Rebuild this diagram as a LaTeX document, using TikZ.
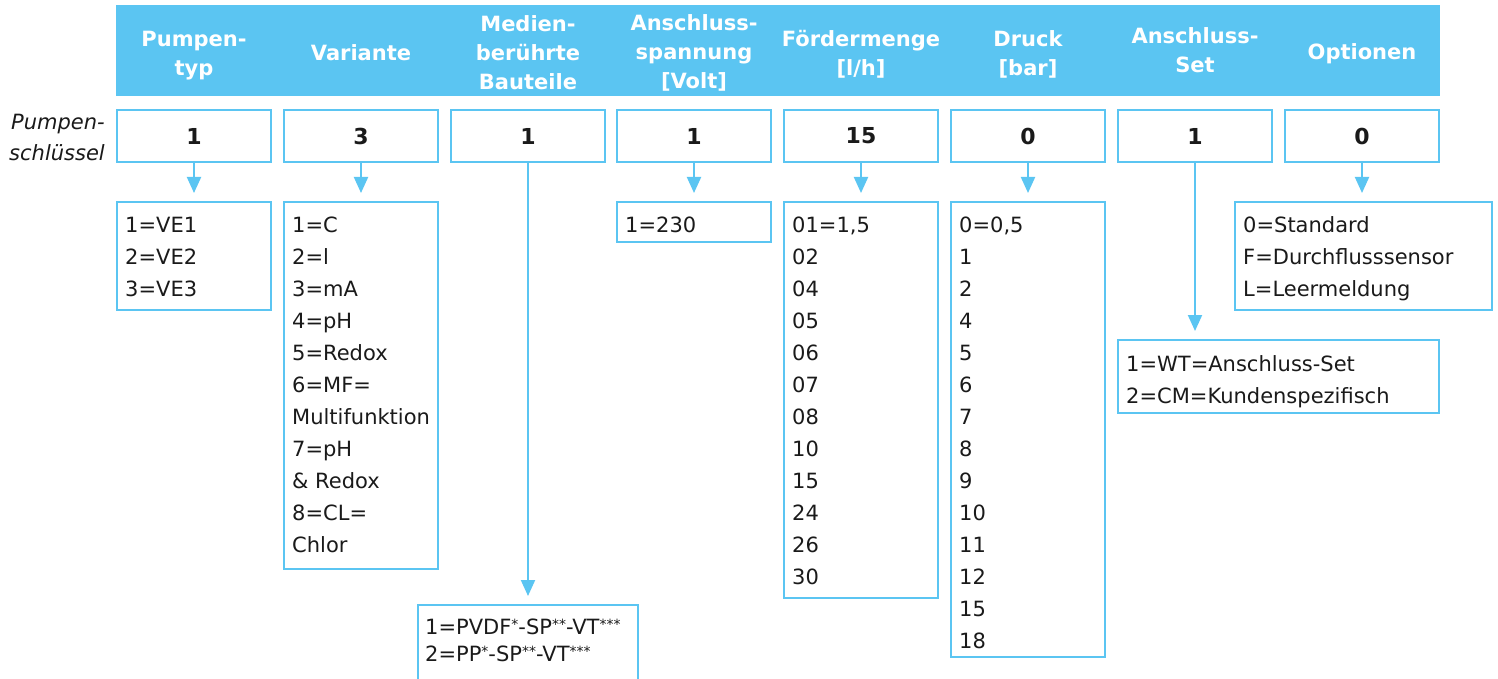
\documentclass[tikz,border=0pt]{standalone}
\usepackage{fontspec}
\setmainfont{DejaVu Sans}
\usetikzlibrary{arrows.meta}
\definecolor{lb}{RGB}{91,197,242}
\definecolor{txt}{RGB}{26,26,26}
\newcommand\sst[1]{\raisebox{5pt}{\fontsize{14}{14}\selectfont#1}}
\tikzset{
 hdrtext/.style={text=white, font=\fontsize{21}{29}\selectfont\bfseries, align=center, inner sep=0pt},
 keybox/.style={draw=lb, line width=1.6pt, minimum width=154pt, minimum height=52pt, inner sep=0pt, outer sep=0pt, font=\fontsize{22}{26}\selectfont\bfseries, text=txt},
 valbox/.style={draw=lb, line width=1.6pt, inner sep=0pt, outer sep=0pt, anchor=north west},
 vallist/.style={anchor=north west, inner sep=0pt, align=left, text=txt, font=\fontsize{21}{32}\selectfont},
 conn/.style={draw=lb, line width=2pt, -{Triangle[length=16pt 0,width=14pt 0]}, shorten >=9pt},
}
\begin{document}
\begin{tikzpicture}[x=1pt,y=-1pt]
\useasboundingbox (0,0) rectangle (1498,679);
\clip (0,0) rectangle (1498,679);
% header bar
\node[fill=lb, minimum width=1324pt, minimum height=91pt, anchor=north west, inner sep=0pt, outer sep=0pt] (hdr) at (116,5) {};
\node[hdrtext] (h1) at (194,56) {Pumpen-\\typ};
\node[hdrtext] (h2) at (361,53) {Variante};
\node[hdrtext] (h3) at (528,53) {Medien-\\berührte\\Bauteile};
\node[hdrtext] (h4) at (694,53) {Anschluss-\\spannung\\{[Volt]}};
\node[hdrtext] (h5) at (861,54) {Fördermenge\\{[l/h]}};
\node[hdrtext] (h6) at (1028,54) {Druck\\{[bar]}};
\node[hdrtext] (h7) at (1195,50) {Anschluss-\\Set};
\node[hdrtext] (h8) at (1362,54) {Optionen};
% label
\node[anchor=east, align=right, inner sep=0pt, font=\fontsize{21}{31}\selectfont\itshape, text=txt] (lbl) at (105,137) {Pumpen-\\schlüssel};
% key boxes
\node[keybox] (k1) at (194,136) {1};
\node[keybox] (k2) at (361,136) {3};
\node[keybox] (k3) at (528,136) {1};
\node[keybox] (k4) at (694,136) {1};
\node[keybox] (k5) at (861,136) {15};
\node[keybox] (k6) at (1028,136) {0};
\node[keybox] (k7) at (1195,136) {1};
\node[keybox] (k8) at (1362,136) {0};
% value boxes
\node[valbox, minimum width=154pt, minimum height=108pt] (v1) at (117,202) {};
\node[valbox, minimum width=154pt, minimum height=367pt] (v2) at (284,202) {};
\node[valbox, minimum width=220pt, minimum height=95pt] (v3) at (418,605) {};
\node[valbox, minimum width=154pt, minimum height=40pt] (v4) at (617,202) {};
\node[valbox, minimum width=154pt, minimum height=396pt] (v5) at (784,202) {};
\node[valbox, minimum width=154pt, minimum height=455pt] (v6) at (951,202) {};
\node[valbox, minimum width=321pt, minimum height=73pt] (v7) at (1118,340) {};
\node[valbox, minimum width=257pt, minimum height=108pt] (v8) at (1235,202) {};
% lists
\node[vallist] (t1) at (125,212.5) {\rule{0pt}{20pt}1=VE1\\2=VE2\\3=VE3};
\node[vallist] (t2) at (292,212.5) {\rule{0pt}{20pt}1=C\\2=l\\3=mA\\4=pH\\5=Redox\\6=MF=\\Multifunktion\\7=pH\\\& Redox\\8=CL=\\Chlor};
\node[vallist, font=\fontsize{21}{27}\selectfont] (t3) at (425,614.5) {\rule{0pt}{20pt}1=PVDF\sst{*}-SP\sst{**}-VT\sst{***}\\2=PP\sst{*}-SP\sst{**}-VT\sst{***}};
\node[vallist] (t4) at (625,212.5) {\rule{0pt}{20pt}1=230};
\node[vallist] (t5) at (792,212.5) {\rule{0pt}{20pt}01=1,5\\02\\04\\05\\06\\07\\08\\10\\15\\24\\26\\30};
\node[vallist] (t6) at (959,212.5) {\rule{0pt}{20pt}0=0,5\\1\\2\\4\\5\\6\\7\\8\\9\\10\\11\\12\\15\\18};
\node[vallist] (t7) at (1126,351) {\rule{0pt}{20pt}1=WT=Anschluss-Set\\2=CM=Kundenspezifisch};
\node[vallist] (t8) at (1243,212.5) {\rule{0pt}{20pt}0=Standard\\F=Durchflusssensor\\L=Leermeldung};
% connectors
\draw[conn] (k1.south) -- (v1.north);
\draw[conn] (k2.south) -- (k2.south |- v2.north);
\draw[conn] (k3.south) -- (v3.north);
\draw[conn] (k4.south) -- (v4.north);
\draw[conn] (k5.south) -- (k5.south |- v5.north);
\draw[conn] (k6.south) -- (k6.south |- v6.north);
\draw[conn] (k7.south) -- (k7.south |- v7.north);
\draw[conn] (k8.south) -- (k8.south |- v8.north);
\end{tikzpicture}
\end{document}
